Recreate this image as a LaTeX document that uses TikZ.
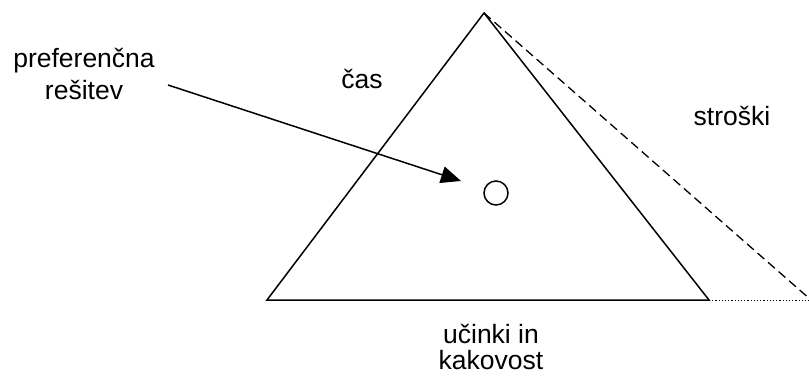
\documentclass[tikz,border=0pt]{standalone}
\usepackage{fontspec}
\setmainfont{Liberation Sans}
\usetikzlibrary{arrows.meta,positioning}

\begin{document}
\begin{tikzpicture}[x=1pt, y=-1pt,
    besedilo/.style={align=center, inner sep=0pt, font=\fontsize{26.5}{28}\selectfont},
    stranica/.style={line width=1.5pt, line join=miter},
    puscica/.style={-{Triangle[length=20pt, width=17pt]}, line width=1.5pt}
  ]
  \useasboundingbox (0,0) rectangle (809,383);

  % Trikotnik
  \coordinate (vrh) at (484,13);
  \coordinate (levo) at (267,300);
  \coordinate (desno) at (709,300);
  \coordinate (konec) at (811,300);
  \draw[stranica] (vrh) -- (levo) -- (desno) -- cycle;
  \draw[line width=1.3pt, dash pattern=on 9pt off 5pt] (vrh) -- (konec);
  \draw[line width=1pt, dash pattern=on 1.2pt off 2pt] (desno) -- (konec);

  % Resitev
  \node[draw, circle, line width=1.5pt, minimum size=24pt, inner sep=0pt] (resitev) at (496,193) {};
  \coordinate (zacetek) at (168,85);
  \coordinate (konica) at (461,181);
  \draw[puscica] (zacetek) -- (konica);

  % Oznake
  \node[besedilo, font=\fontsize{26.5}{32}\selectfont] (pref) at (84,74) {preferenčna\\rešitev};
  \node[besedilo] (cas) at (362,79) {čas};
  \node[besedilo] (stroski) at (732,116) {stroški};
  \node[besedilo, font=\fontsize{26.5}{26}\selectfont] (ucinki) at (491,347) {učinki in\\kakovost};
\end{tikzpicture}
\end{document}
